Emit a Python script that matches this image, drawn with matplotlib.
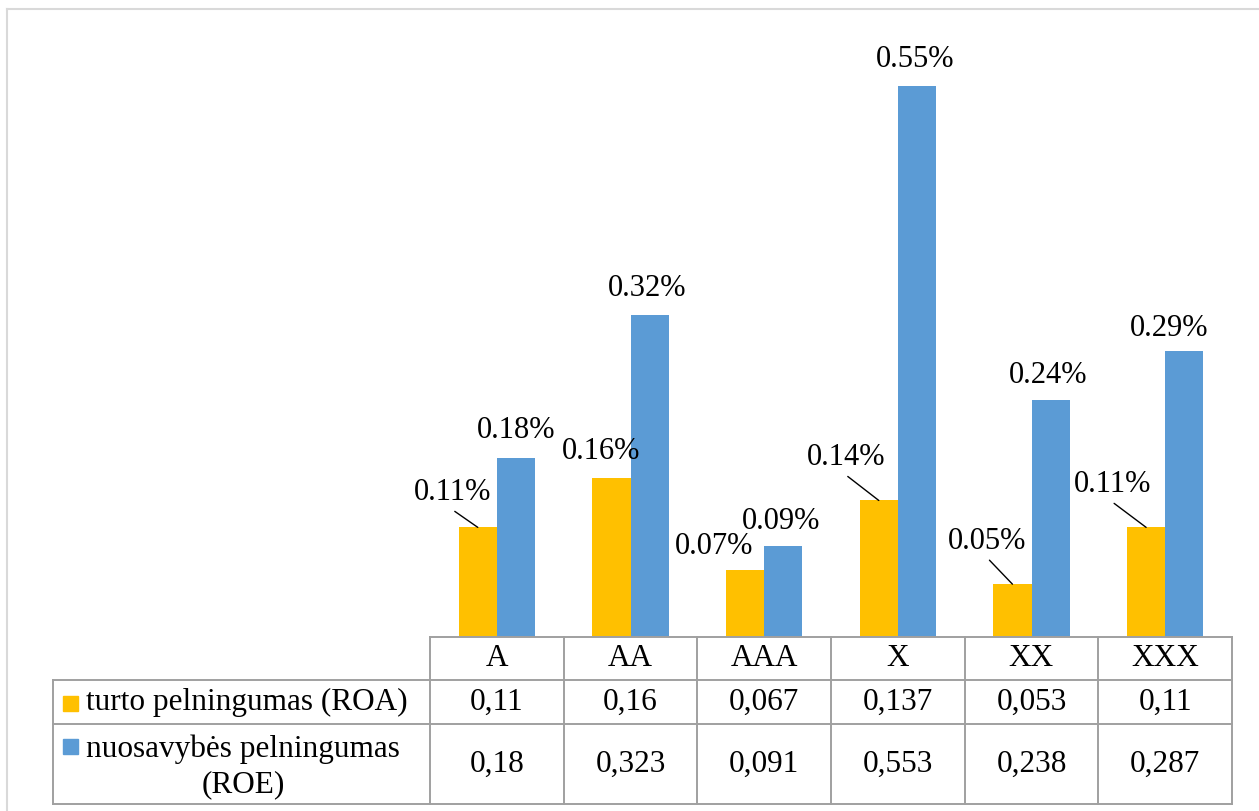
import numpy as np
import matplotlib.pyplot as plt

plt.rcParams["font.family"] = ["Liberation Serif", "DejaVu Serif"]

categories = ["A", "AA", "AAA", "X", "XX", "XXX"]
roa = [0.11, 0.16, 0.067, 0.137, 0.053, 0.11]
roe = [0.18, 0.323, 0.091, 0.553, 0.238, 0.287]
series_names = ["turto pelningumas (ROA)", "nuosavybės pelningumas\n(ROE)"]
colors = ["#FFC000", "#5B9BD5"]

# label offsets in pixels (dx, dy, leader line)
roa_offsets = [(-25, 27, True), (-10, 19, False), (-31, 16, False),
               (-33, 35, True), (-25, 35, True), (-34, 35, True)]
roe_offsets = [(0, 20, False), (-2, 19, False), (-2, 17, False),
               (-2, 19, False), (-2, 17, False), (-15, 15, False)]

W, H = 1259, 811
plot_left, plot_right = 430, 1232
base_y, top_y = 637, 39
legend_left = 53
row_edges = [637, 680, 724, 804]
fs = 22
table_fs = 22.5

fig = plt.figure(figsize=(W / 100, H / 100), dpi=100)
ax = fig.add_axes([plot_left / W, (H - base_y) / H,
                   (plot_right - plot_left) / W, (base_y - top_y) / H])
x = np.arange(len(categories))
bw = 0.285
bars_roa = ax.bar(x - bw / 2, roa, bw, color=colors[0])
bars_roe = ax.bar(x + bw / 2, roe, bw, color=colors[1])
ax.set_xlim(-0.5, len(categories) - 0.5)
ax.set_ylim(0, 0.6)
ax.axis("off")


def label_bars(xs, values, offsets):
    for xi, v, (dx, dy, leader) in zip(xs, values, offsets):
        ax.annotate(f"{v:.2f}%", xy=(xi, v), xytext=(dx, dy),
                    textcoords="offset pixels", ha="center", va="baseline",
                    fontsize=fs, color="black")
        if leader:
            ax.annotate("", xy=(xi, v), xytext=(dx + 2, dy - 11),
                        textcoords="offset pixels",
                        arrowprops=dict(arrowstyle="-", color="black", lw=1,
                                        shrinkA=0, shrinkB=0))


label_bars(x - bw / 2, roa, roa_offsets)
label_bars(x + bw / 2, roe, roe_offsets)

# data table drawn in pixel coordinates under the bars
tab = fig.add_axes([0, 0, 1, 1])
tab.set_xlim(0, W)
tab.set_ylim(H, 0)
tab.axis("off")

grid = "#a0a0a0"
col_w = (plot_right - plot_left) / len(categories)
col_edges = [plot_left + i * col_w for i in range(len(categories) + 1)]

tab.plot([plot_left, plot_right], [row_edges[0]] * 2, color=grid, lw=1.4)
for y in row_edges[1:]:
    tab.plot([legend_left, plot_right], [y, y], color=grid, lw=1.4)
tab.plot([legend_left] * 2, [row_edges[1], row_edges[3]], color=grid, lw=1.4)
for cx in col_edges:
    tab.plot([cx, cx], [row_edges[0], row_edges[3]], color=grid, lw=1.4)

for i, cat in enumerate(categories):
    cx = col_edges[i] + col_w / 2
    tab.text(cx, (row_edges[0] + row_edges[1]) / 2, cat, ha="center",
             va="center", fontsize=table_fs)
    for r, vals in enumerate([roa, roe]):
        cy = (row_edges[r + 1] + row_edges[r + 2]) / 2
        tab.text(cx, cy, str(vals[i]).replace(".", ","), ha="center",
                 va="center", fontsize=table_fs)

# legend keys and series names
key_tops = [696, 739]
text_y = [702, 767]
for r in range(2):
    tab.add_patch(plt.Rectangle((63, key_tops[r]), 15, 15, color=colors[r]))
    tab.text(86, text_y[r], series_names[r], ha="left", va="center",
             multialignment="center", fontsize=table_fs, linespacing=1.25)

# outer frame
tab.plot([7, 7], [9, H], color="#d9d9d9", lw=1.5)
tab.plot([7, W], [9, 9], color="#d9d9d9", lw=1.5)

fig.savefig("out.png", dpi=100)
